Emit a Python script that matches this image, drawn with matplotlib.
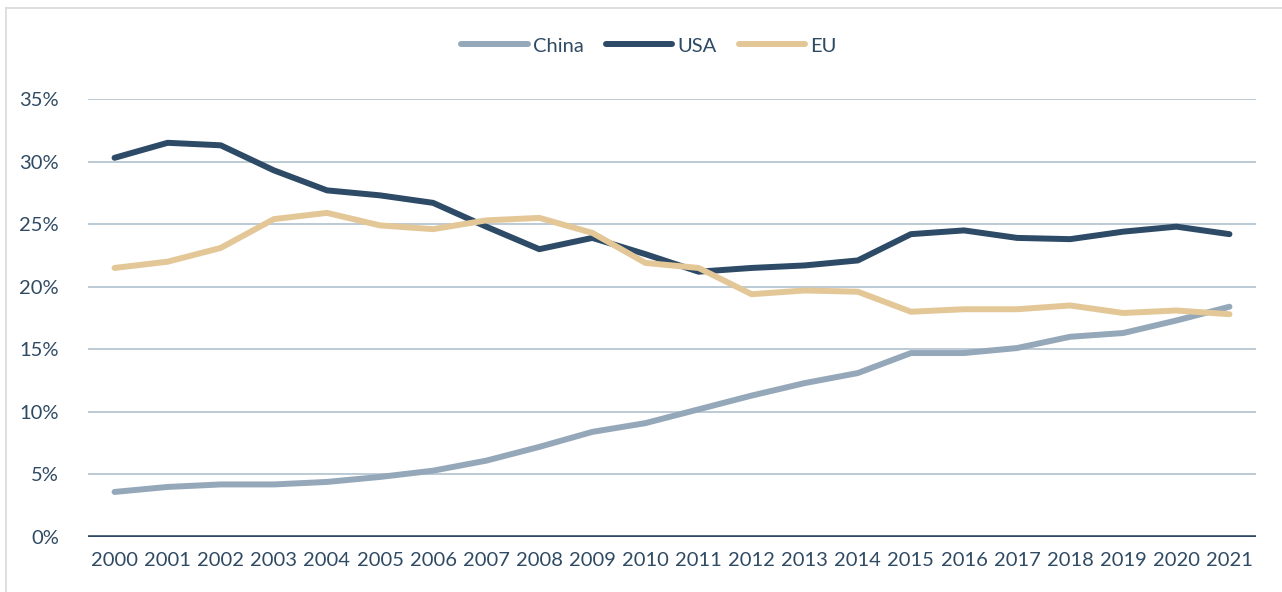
import matplotlib.pyplot as plt

years = list(range(2000, 2022))
china = [3.6, 4.0, 4.2, 4.2, 4.4, 4.8, 5.3, 6.1, 7.2, 8.4, 9.1, 10.2, 11.3, 12.3, 13.1,
         14.7, 14.7, 15.1, 16.0, 16.3, 17.3, 18.4]
usa = [30.3, 31.5, 31.3, 29.3, 27.7, 27.3, 26.7, 24.8, 23.0, 23.9, 22.6, 21.2, 21.5, 21.7, 22.1,
       24.2, 24.5, 23.9, 23.8, 24.4, 24.8, 24.2]
eu = [21.5, 22.0, 23.1, 25.4, 25.9, 24.9, 24.6, 25.3, 25.5, 24.3, 21.9, 21.5, 19.4, 19.7, 19.6,
      18.0, 18.2, 18.2, 18.5, 17.9, 18.1, 17.8]
yticks = [0, 5, 10, 15, 20, 25, 30, 35]

c_china = '#95a8ba'
c_usa = '#2d4a66'
c_eu = '#e3c797'
c_grid = '#b6c6d3'
c_text = '#2f4a63'

plt.rcParams['font.family'] = ['Lato', 'DejaVu Sans']

fig = plt.figure(figsize=(12.82, 5.92), dpi=100)
ax = fig.add_axes([88 / 1282, 1 - 537 / 592, (1256 - 88) / 1282, (537 - 99) / 592])

x = list(range(len(years)))
ax.plot(x, china, color=c_china, lw=4.3, label='China', solid_capstyle='round', zorder=3)
ax.plot(x, usa, color=c_usa, lw=4.3, label='USA', solid_capstyle='round', zorder=3)
ax.plot(x, eu, color=c_eu, lw=4.3, label='EU', solid_capstyle='round', zorder=3)

ax.set_xlim(-0.5, len(years) - 0.5)
ax.set_ylim(0, 35)
ax.set_yticks(yticks)
ax.set_yticklabels([f'{v}%' for v in yticks])
ax.set_xticks(x)
ax.set_xticklabels([str(y) for y in years])
for v in yticks[1:]:
    ax.axhline(v, color=c_grid, lw=1.3, zorder=1)
ax.axhline(0, color=c_usa, lw=2.6, zorder=4)
for s in ax.spines.values():
    s.set_visible(False)
ax.tick_params(length=0, labelsize=14.5, labelcolor=c_text)
ax.tick_params(axis='y', pad=21)
ax.tick_params(axis='x', pad=11)

fig.legend(loc='center', bbox_to_anchor=(649 / 1282, 1 - 46 / 592), ncol=3, frameon=False,
           fontsize=14.5, labelcolor=c_text, handlelength=3.3, handletextpad=0.25,
           columnspacing=1.1)

# outer frame lines visible in the reference
fig.add_artist(plt.Line2D([6 / 1282, 1], [1 - 8 / 592, 1 - 8 / 592], color='#d9d9d9', lw=1.2,
                          transform=fig.transFigure))
fig.add_artist(plt.Line2D([6 / 1282, 6 / 1282], [0, 1 - 8 / 592], color='#d9d9d9', lw=1.2,
                          transform=fig.transFigure))

fig.savefig('out.png', dpi=100)
